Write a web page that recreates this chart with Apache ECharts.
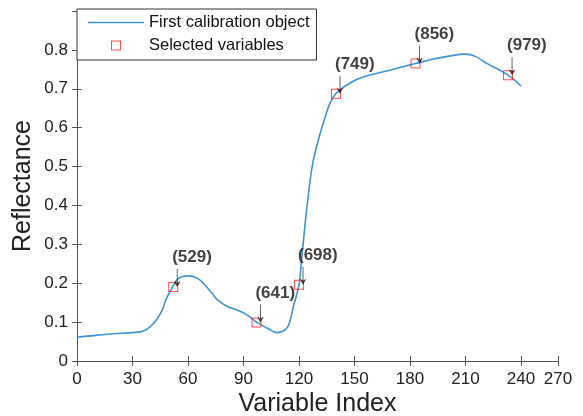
<!DOCTYPE html>
<html>
<head>
<meta charset="utf-8">
<script src="https://cdn.jsdelivr.net/npm/echarts@6/dist/echarts.min.js"></script>
<style>
  html, body { margin: 0; padding: 0; background: #fff; }
  #myChart { width: 583px; height: 416px; }
</style>
</head>
<body>
<div id="myChart"></div>
<script>
// spectrum of the first calibration object
const variableIndex = [0, 10, 20, 30, 36, 40, 43, 46, 48, 51, 55, 60, 65, 69, 73, 76, 81, 87, 92, 97,
  103, 108, 113, 115, 117, 120, 121, 123, 125, 127.5, 131, 134, 136.5, 140, 148, 155, 165, 174, 183,
  192, 201, 210, 215, 222, 233, 240];
const reflectance = [0.061, 0.066, 0.070, 0.073, 0.077, 0.090, 0.106, 0.130, 0.157, 0.185, 0.213, 0.219,
  0.213, 0.196, 0.174, 0.157, 0.141, 0.130, 0.118, 0.100, 0.084, 0.073, 0.082, 0.101, 0.140, 0.196,
  0.240, 0.338, 0.425, 0.510, 0.578, 0.625, 0.660, 0.688, 0.716, 0.731, 0.743, 0.754, 0.765, 0.776,
  0.784, 0.789, 0.784, 0.764, 0.735, 0.707];

// selected variables
const selectedIndex = [52, 97, 120, 140, 183, 233];
const selectedValue = [0.190, 0.099, 0.196, 0.687, 0.765, 0.735];
const selectedLabels = ['(529)', '(641)', '(698)', '(749)', '(856)', '(979)'];

const xTickLabels = ['0', '30', '60', '90', '120', '150', '180', '210', '240', '270'];

const fontFamily = "'Liberation Sans', Arial, sans-serif";
const axisColor = '#555555';
const lineColor = '#3d94d6';
const markerColor = '#ff2020';
const hollowSquare = 'path://M0,0H10V10H0Z M1,1V9H9V1Z';
const legendLine = 'path://M0,0H56V1.6H0Z';
const downArrow = 'path://M2.6,0 L3.4,0 L3.4,16 L5.4,13.6 L6,14.2 L3,20 L0,14.2 L0.6,13.6 L2.6,16 Z';

const myChart = echarts.init(document.getElementById('myChart'));

const option = {
  animation: false,
  textStyle: { fontFamily: fontFamily },
  grid: { left: 77, right: 25, top: 11, bottom: 55, outerBoundsMode: 'none', containLabel: false },
  legend: {
    orient: 'vertical',
    left: 77,
    top: 9,
    padding: [5, 7, 6, 11],
    itemWidth: 56,
    itemHeight: 10,
    itemGap: 6,
    borderColor: '#333',
    borderWidth: 1,
    backgroundColor: '#fff',
    textStyle: { fontSize: 16.5, lineHeight: 16, color: '#111', fontFamily: fontFamily },
    data: [
      { name: 'First calibration object', icon: legendLine, itemStyle: { color: lineColor } },
      { name: 'Selected variables', icon: hollowSquare }
    ]
  },
  xAxis: [
    {
      type: 'value', min: 0, max: 260, interval: 30, position: 'bottom',
      name: 'Variable Index', nameLocation: 'middle', nameGap: 31, nameMoveOverlap: false,
      nameTextStyle: { fontSize: 25, color: '#222' },
      axisLine: { show: true, lineStyle: { color: axisColor } },
      axisTick: { show: true, inside: true, length: 5, lineStyle: { color: axisColor } },
      axisLabel: { fontSize: 17, color: '#222', margin: 10, formatter: (v, i) => xTickLabels[i] },
      splitLine: { show: false }
    },
    {
      type: 'value', min: 0, max: 260, interval: 30, position: 'top',
      axisLine: { show: true, lineStyle: { color: axisColor } },
      axisTick: { show: true, inside: true, length: 5, lineStyle: { color: axisColor } },
      axisLabel: { show: false },
      splitLine: { show: false }
    }
  ],
  yAxis: [
    {
      type: 'value', min: 0, max: 0.9, interval: 0.1, position: 'left',
      name: 'Reflectance', nameLocation: 'middle', nameGap: 41, nameMoveOverlap: false,
      nameTextStyle: { fontSize: 25, color: '#222' },
      axisLine: { show: true, lineStyle: { color: axisColor } },
      axisTick: { show: true, inside: true, length: 5, lineStyle: { color: axisColor } },
      axisLabel: { fontSize: 17, color: '#222', margin: 9, showMaxLabel: false },
      splitLine: { show: false }
    },
    {
      type: 'value', min: 0, max: 0.9, interval: 0.1, position: 'right',
      axisLine: { show: true, lineStyle: { color: axisColor } },
      axisTick: { show: true, inside: true, length: 5, lineStyle: { color: axisColor } },
      axisLabel: { show: false },
      splitLine: { show: false }
    }
  ],
  series: [
    {
      name: 'First calibration object',
      type: 'line',
      smooth: 0.4,
      symbol: 'none',
      lineStyle: { color: lineColor, width: 1.6 },
      itemStyle: { color: lineColor },
      data: variableIndex.map((x, i) => [x, reflectance[i]]),
      z: 2
    },
    {
      name: 'Selected variables',
      type: 'scatter',
      symbol: hollowSquare,
      symbolSize: 10,
      itemStyle: { color: markerColor },
      data: selectedIndex.map((x, i) => [x, selectedValue[i]]),
      z: 3
    },
    {
      name: 'labels',
      type: 'scatter',
      symbol: downArrow,
      symbolSize: [6, 18],
      symbolOffset: [4, -9],
      itemStyle: { color: '#111' },
      label: {
        show: true,
        position: 'top',
        align: 'left',
        distance: 3,
        offset: [-5, 0],
        fontSize: 17,
        fontWeight: 'bold',
        color: '#111',
        formatter: (p) => selectedLabels[p.dataIndex]
      },
      data: selectedIndex.map((x, i) => [x, selectedValue[i]]),
      z: 4
    }
  ]
};

option && myChart.setOption(option);
</script>
</body>
</html>
